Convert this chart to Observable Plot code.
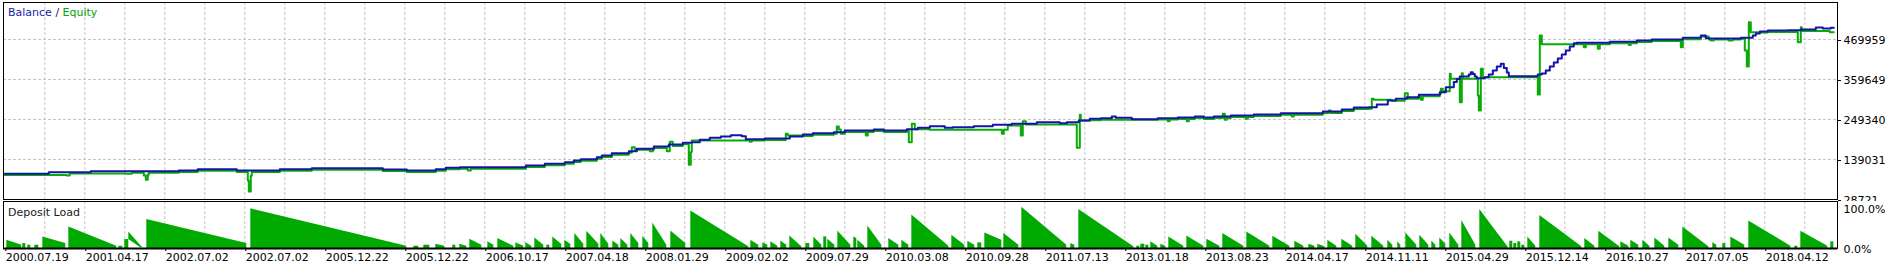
<!DOCTYPE html>
<html><head><meta charset="utf-8">
<script src="https://cdn.jsdelivr.net/npm/d3@7"></script>
<script src="https://cdn.jsdelivr.net/npm/@observablehq/plot@0.6"></script>
<style>
html,body{margin:0;padding:0;background:#fff;}
#wrap{position:relative;width:1892px;height:265px;overflow:hidden;font-family:"DejaVu Sans",sans-serif;font-size:11px;}
#main,#load{position:absolute;left:0;}
#main{top:0;}
#load{top:201px;}
.lbl{position:absolute;left:8px;white-space:nowrap;font:11px/13px "DejaVu Sans",sans-serif;}
</style></head><body>
<div id="wrap">
<div id="main"></div>
<div id="load"></div>
<div class="lbl" style="top:6px"><span style="color:#1c1ca8">Balance</span> <span style="color:#202050">/</span> <span style="color:#00a800">Equity</span></div>
<div class="lbl" style="top:206px;color:#1a1a1a">Deposit Load</div>
</div>
<script>
// ---- data ----
const dateLabels = ["2000.07.19","2001.04.17","2002.07.02","2002.07.02","2005.12.22","2005.12.22","2006.10.17","2007.04.18","2008.01.29","2009.02.02","2009.07.29","2010.03.08","2010.09.28","2011.07.13","2013.01.18","2013.08.23","2014.04.17","2014.11.11","2015.04.29","2015.12.14","2016.10.27","2017.07.05","2018.04.12"];
const labelTrades = [0,80,160,240,320,400,480,560,640,720,800,880,960,1040,1120,1200,1280,1360,1440,1520,1600,1680,1760];
const gridTrades = [40,80,120,160,200,240,280,320,360,400,440,480,520,560,600,640,680,720,760,800,840,880,920,960,1000,1040,1080,1120,1160,1200,1240,1280,1320,1360,1400,1440,1480,1520,1560,1600,1640,1680,1720,1760,1800];
const yTicks = [28721,139031,249340,359649,469959];
const loadTicks = [0,100];

const balTrade = [0,44,86,174,193,232,275,307,378,402,431,441,455,521,540,560,569,576,592,597,607,624,632,649,664,678,687,695,705,716,726,737,741,760,785,798,808,829,840,869,879,902,913,925,940,948,969,988,1007,1032,1055,1062,1074,1085,1096,1107,1111,1127,1153,1173,1190,1199,1209,1226,1249,1276,1318,1337,1349,1364,1372,1383,1391,1402,1414,1435,1441,1449,1452,1455,1464,1466,1468,1470,1472,1480,1484,1488,1492,1496,1499,1502,1504,1533,1537,1541,1545,1549,1553,1557,1561,1565,1569,1572,1605,1632,1647,1678,1696,1701,1704,1736,1748,1751,1755,1763,1783,1796,1811,1818,1826,1829];
const balValue = [100000,104000,106800,108700,112000,108700,112300,115000,111500,108700,112300,116100,117800,122500,127200,131600,136300,139900,145400,150100,156400,161900,168500,174900,180400,185100,186700,193400,198900,202500,206000,203300,195000,196900,202500,208000,211600,214300,219000,221800,219000,222600,226500,230900,226500,228100,230900,234700,237500,241900,239100,241900,246600,251300,252900,257600,254000,250200,252900,254900,257600,254900,257600,260400,263100,266700,271400,276900,282400,283300,290700,301700,306400,310800,317500,324600,338400,352800,361000,367900,373400,379800,374800,367900,363200,366000,373400,384500,395500,402900,391400,379000,368800,373400,376200,384500,395500,406500,417600,428600,439600,450700,459800,460900,463600,467200,470000,474600,481000,473500,472700,474600,481000,486500,492000,494800,495600,497500,503100,500300,502200,502200];

const eqTrade = [0,62,65,121,127,139,141,143,144,174,193,232,243,244,246,247,275,307,378,402,431,441,455,463,466,521,540,560,569,576,592,597,607,624,627,630,645,648,649,662,665,668,678,684,686,687,745,747,760,781,783,798,808,829,832,834,836,840,861,863,869,879,902,904,907,910,913,925,997,999,1003,1016,1018,1021,1072,1075,1076,1085,1096,1153,1163,1165,1173,1182,1184,1190,1199,1209,1218,1220,1222,1226,1241,1243,1249,1276,1287,1289,1318,1324,1326,1337,1349,1364,1367,1369,1387,1400,1403,1414,1416,1418,1435,1436,1438,1445,1446,1455,1457,1458,1473,1474,1476,1478,1533,1535,1537,1572,1579,1581,1593,1595,1605,1624,1626,1632,1647,1676,1678,1696,1704,1706,1709,1724,1728,1736,1740,1742,1744,1746,1753,1763,1793,1796,1797,1825,1829];
const eqValue = [96000,94900,100300,99600,102800,94900,83000,97000,102800,104700,108000,104700,81100,50800,94000,104700,108300,111000,107500,104700,108300,112100,113800,108700,113800,118500,123200,127600,132300,135900,141400,146100,152400,157900,173000,165800,162000,165800,170900,161900,187800,176400,181100,124400,160000,191400,187800,191400,192900,209900,205200,204000,207600,210300,230000,222000,210300,215000,205200,215000,217800,215000,218600,186700,237500,222600,222500,220900,209900,220900,232800,205200,244700,235600,171300,262300,246600,247300,248500,249000,244700,249000,251000,244400,251000,253600,251000,253600,265100,248500,253600,256400,251300,256400,259100,262700,257600,262700,267400,274200,267400,272900,278400,279300,306400,303700,301000,321900,306800,313500,303700,313500,319800,334000,327000,375400,361600,297100,377000,361600,315500,274200,389200,366000,318300,481000,457000,456900,448700,456900,444300,456900,459600,455000,459600,463200,466000,448700,470600,478200,470000,467200,470000,467200,470000,471900,439600,395500,517700,490100,489300,490700,462500,503900,493400,490000,490000];

// deposit load teeth: first trade, last trade, load at first (%), load at last (%)
const loadStart = [2,18,23,30,38,64,114,120,124,142,246,409,419,431,448,455,465,483,493,511,521,530,542,548,560,570,582,596,608,616,626,638,648,666,686,746,758,766,776,785,801,809,819,823,833,849,853,863,884,897,907,947,963,973,980,999,1017,1066,1074,1132,1136,1141,1146,1156,1164,1182,1202,1218,1242,1268,1290,1304,1313,1323,1337,1351,1367,1383,1393,1401,1415,1427,1435,1445,1457,1475,1505,1509,1513,1517,1523,1535,1580,1594,1616,1626,1638,1650,1664,1678,1708,1718,1726,1744,1790,1796,1826];
const loadEnd = [16,20,25,33,60,111,117,123,136,241,401,413,424,439,450,461,476,488,508,518,526,538,544,556,565,578,593,603,613,622,633,643,661,680,743,753,762,772,781,796,804,816,821,829,845,851,859,876,893,903,943,959,969,976,996,1013,1061,1069,1128,1134,1139,1143,1152,1160,1178,1198,1214,1238,1264,1284,1298,1309,1319,1331,1347,1362,1378,1387,1395,1411,1423,1430,1440,1453,1470,1502,1507,1511,1515,1519,1530,1576,1589,1614,1623,1633,1644,1659,1673,1703,1711,1720,1739,1785,1792,1822,1828];
const loadFrom = [20.8,12.5,8.3,8.3,29.2,54.2,5.8,22.5,19.2,73.3,100,5.8,8.3,10.8,8.3,10.8,23.3,16.7,25,14.2,14.2,26.7,8.3,29.2,20.8,37.5,43.3,37.5,19.2,25,37.5,30.8,64.2,44.2,94.2,20.8,14.2,16.7,19.2,31.7,12.5,29.2,29.2,23.3,44.2,29.2,20.8,56.7,25,20.8,84.2,33.3,18.3,14.2,39.2,37.5,104.2,12.5,98.3,5.8,10.8,8.3,16.7,10.8,29.2,31.7,23.3,37.5,41.7,30.8,18.3,10.8,10.8,20.8,23.3,35.8,30.8,20.8,16.7,39.2,33.3,19.2,26.7,39.2,70.8,98.3,18.3,12.5,16.7,8.3,29.2,83.3,25,43.3,16.7,20.8,20.8,26.7,26.7,54.2,14.2,12.5,29.2,69.2,5.8,43.3,16.7];
const loadTo = [8.3,12.5,8.3,8.3,12.5,5.8,5.8,22.5,4.2,12.5,5.8,5.8,8.3,5.8,8.3,5.8,8.3,8.3,5.8,5.8,5.8,8.3,8.3,10,10,10.8,10.8,10.8,8.3,8.3,12.5,12.5,8.3,12.5,4.2,8.3,8.3,5.8,8.3,4.2,12.5,8.3,29.2,8.3,8.3,25,5.8,8.3,8.3,8.3,5.8,8.3,8.3,14.2,20.8,8.3,8.3,8.3,4.2,5.8,10.8,8.3,5.8,5.8,5.8,5.8,5.8,5.8,5.8,5.8,5.8,5.8,4.2,5.8,5.8,5.8,5.8,8.3,8.3,8.3,8.3,8.3,10.8,8.3,8.3,4.2,18.3,12.5,16.7,8.3,5.8,4.2,5.8,4.2,5.8,8.3,5.8,5.8,8.3,4.2,8.3,12.5,8.3,5.8,5.8,5.8,16.7];

// ---- tables for the library ----
const balance = balTrade.map((t, i) => ({trade: t, value: balValue[i]}));
const equity = eqTrade.map((t, i) => ({trade: t, value: eqValue[i]}));
const teeth = loadStart.flatMap((s, i) => [
  {tooth: i, trade: s, load: loadFrom[i]},
  {tooth: i, trade: loadEnd[i] + 1, load: loadTo[i]}
]);
const labelMap = new Map(labelTrades.map((t, i) => [t, dateLabels[i]]));

const xDomain = [-1.3, 1832.7];
const gridStyle = {stroke: "#c6c6c6", strokeOpacity: 1, strokeDasharray: "3,2", strokeWidth: 1};
const font = {fontFamily: "'DejaVu Sans', sans-serif", fontSize: "11px", background: "white", color: "black", overflow: "hidden"};

const main = Plot.plot({
  width: 1892, height: 201,
  marginTop: 2, marginBottom: 2, marginLeft: 3, marginRight: 55,
  style: font,
  x: {domain: xDomain, axis: null},
  y: {domain: [28721, 571996], axis: null},
  marks: [
    Plot.gridX(gridTrades, gridStyle),
    Plot.gridY(yTicks, gridStyle),
    Plot.line(equity, {x: "trade", y: "value", curve: "step-after", stroke: "#0aaa0a", strokeWidth: 2}),
    Plot.line(balance, {x: "trade", y: "value", curve: "step-after", stroke: "#1414a8", strokeWidth: 2}),
    Plot.frame({stroke: "black", strokeWidth: 1}),
    Plot.axisY(yTicks, {anchor: "right", label: null, tickSize: 3, tickPadding: 3, dy: 1, tickFormat: d => String(d), fill: "black"})
  ]
});
document.getElementById("main").appendChild(main);

const load = Plot.plot({
  width: 1892, height: 64,
  marginTop: 0, marginBottom: 17, marginLeft: 3, marginRight: 55,
  style: font,
  x: {domain: xDomain, axis: null},
  y: {domain: [0, 118.4], axis: null},
  marks: [
    Plot.gridX(gridTrades, gridStyle),
    Plot.areaY(teeth, {x: "trade", y: "load", z: "tooth", fill: "#00aa00", curve: "linear"}),
    Plot.frame({stroke: "black", strokeWidth: 1}),
    Plot.ruleY([0], {stroke: "black", strokeWidth: 2}),
    Plot.axisY(loadTicks, {anchor: "right", label: null, tickSize: 0, tickPadding: 6, dy: 1, tickFormat: d => d.toFixed(1) + "%", fill: "black"}),
    Plot.axisX(labelTrades, {anchor: "bottom", label: null, tickSize: 3, tickPadding: 2, textAnchor: "start", dx: 1, tickFormat: d => labelMap.get(d), fill: "black"})
  ]
});
document.getElementById("load").appendChild(load);
</script>
</body></html>
